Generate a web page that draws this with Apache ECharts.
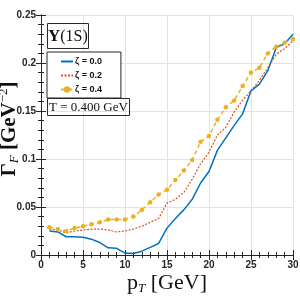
<!DOCTYPE html>
<html>
<head>
<meta charset="utf-8">
<script src="https://cdn.jsdelivr.net/npm/echarts@6/dist/echarts.min.js"></script>
<style>html,body{margin:0;padding:0;background:#fff}#c{width:300px;height:300px}</style>
</head>
<body>
<div id="c"></div>
<script>
const pT = [1,2,3,4,5,6,7,8,9,10,11,12,13,14,15,16,17,18,19,20,21,22,23,24,25,26,27,28,29,30];
const zeta00 = [0.025,0.024,0.019,0.019,0.0185,0.0165,0.013,0.0075,0.007,0.002,0.0015,0.004,0.008,0.012,0.028,0.038,0.047,0.058,0.075,0.087,0.109,0.122,0.135,0.147,0.171,0.178,0.192,0.216,0.220,0.230];
const zeta02 = [0.027,0.026,0.023,0.025,0.026,0.027,0.027,0.026,0.024,0.025,0.027,0.030,0.034,0.038,0.054,0.058,0.065,0.079,0.095,0.107,0.125,0.133,0.149,0.161,0.171,0.182,0.195,0.209,0.215,0.223];
const zeta04 = [0.029,0.027,0.025,0.028,0.030,0.032,0.034,0.037,0.037,0.037,0.040,0.047,0.055,0.063,0.068,0.078,0.088,0.099,0.118,0.124,0.141,0.154,0.161,0.176,0.190,0.195,0.210,0.217,0.221,0.225];
const seriesNames = ['ζ = 0.0','ζ = 0.2','ζ = 0.4'];
const xTicks = [0,5,10,15,20,25,30];
const yTicks = [0,0.05,0.1,0.15,0.2,0.25];

const pair = arr => pT.map((x,i)=>[x,arr[i]]);
const axisCol = '#262626';
const labelFont = {fontFamily:'Liberation Sans, Arial, sans-serif', fontWeight:'bold', fontSize:10, color:axisCol};
const serif = 'Liberation Serif, DejaVu Serif, serif';

const chart = echarts.init(document.getElementById('c'), null, {renderer:'canvas'});
chart.setOption({
  animation:false,
  backgroundColor:'#fff',
  grid:{left:41, right:7, top:15, bottom:45, containLabel:false, outerBoundsMode:'none'},
  title:[
    {text:'{b|Υ}{n|(1S)}', left:47, top:23, padding:[5,1,4,1], borderColor:'#262626', borderWidth:1,
     textStyle:{fontWeight:'normal', rich:{b:{fontFamily:serif, fontWeight:'bold', fontSize:17, color:'#111'}, n:{fontFamily:serif, fontWeight:'normal', fontSize:16, color:'#111'}}}},
    {text:'T = 0.400 GeV', left:47, top:98, padding:[3,2,2,2], borderColor:'#262626', borderWidth:1,
     textStyle:{fontFamily:serif, fontWeight:'normal', fontSize:13, color:'#111'}}
  ],
  legend:{
    orient:'vertical', left:47, top:52, padding:[5,19,4,13], itemGap:5, itemWidth:12, itemHeight:8,
    borderColor:'#262626', borderWidth:1, backgroundColor:'#fff',
    textStyle:{fontFamily:'Liberation Sans, Arial, sans-serif', fontWeight:'bold', fontSize:9, color:'#111', padding:[0,0,0,-3]},
    data:[
      {name:seriesNames[0], itemStyle:{opacity:0}},
      {name:seriesNames[1], itemStyle:{opacity:0}},
      {name:seriesNames[2]}
    ]
  },
  xAxis:[{
    type:'value', min:0, max:30, interval:5,
    name:'{p|p}{s|T}{g| [GeV]}', nameLocation:'middle', nameGap:17, nameMoveOverlap:false,
    nameTextStyle:{rich:{p:{fontFamily:serif, fontSize:22, color:'#111'}, s:{fontFamily:serif, fontStyle:'italic', fontSize:13, color:'#111', verticalAlign:'bottom', padding:[10,0,0,0]}, g:{fontFamily:serif, fontSize:22, color:'#111'}}},
    axisLine:{show:true, lineStyle:{color:axisCol, width:1}},
    axisTick:{show:true, inside:true, length:5, lineStyle:{color:axisCol}},
    minorTick:{show:true, splitNumber:5, length:3, lineStyle:{color:axisCol}},
    splitLine:{show:true, lineStyle:{color:'#e3e3e3', width:1}},
    axisLabel:Object.assign({margin:5, formatter:v=>String(v)}, labelFont)
  },{
    type:'value', min:0, max:30, interval:5, position:'top',
    axisLine:{show:true, lineStyle:{color:axisCol, width:1}},
    axisTick:{show:true, inside:true, length:5, lineStyle:{color:axisCol}},
    minorTick:{show:true, splitNumber:5, length:3, lineStyle:{color:axisCol}},
    splitLine:{show:false}, axisLabel:{show:false}
  }],
  yAxis:[{
    type:'value', min:0, max:0.25, interval:0.05,
    name:'{G|Γ}{s|F}{g| [GeV}{e|−2}{g|]}', nameLocation:'middle', nameGap:19, nameMoveOverlap:false,
    nameTextStyle:{rich:{G:{fontFamily:serif, fontWeight:'bold', fontSize:21, color:'#111', padding:[0,0,0,12]}, g:{fontFamily:serif, fontWeight:'bold', fontSize:21, color:'#111'}, s:{fontFamily:serif, fontStyle:'italic', fontSize:13, color:'#111', padding:[10,0,0,0]}, e:{fontFamily:serif, fontSize:13, color:'#111', padding:[0,0,12,0]}}},
    axisLine:{show:true, lineStyle:{color:axisCol, width:1}},
    axisTick:{show:true, inside:true, length:5, lineStyle:{color:axisCol}},
    minorTick:{show:true, splitNumber:5, length:3, lineStyle:{color:axisCol}},
    splitLine:{show:true, lineStyle:{color:'#e3e3e3', width:1}},
    axisLabel:Object.assign({margin:5, formatter:v=>(v===0?'0':String(+v.toFixed(2)))}, labelFont)
  },{
    type:'value', min:0, max:0.25, interval:0.05, position:'right',
    axisLine:{show:true, lineStyle:{color:axisCol, width:1}},
    axisTick:{show:true, inside:true, length:5, lineStyle:{color:axisCol}},
    minorTick:{show:true, splitNumber:5, length:3, lineStyle:{color:axisCol}},
    splitLine:{show:false}, axisLabel:{show:false}
  }],
  series:[
    {name:seriesNames[0], type:'line', data:pair(zeta00), symbol:'none', lineStyle:{color:'#0072BD', width:1.5}, itemStyle:{color:'#0072BD'}},
    {name:seriesNames[1], type:'line', data:pair(zeta02), symbol:'none', lineStyle:{color:'#D95319', width:1.2, type:[2,1.5]}, itemStyle:{color:'#D95319'}},
    {name:seriesNames[2], type:'line', data:pair(zeta04), symbol:'circle', symbolSize:4.5, lineStyle:{color:'#EDB120', width:1.5, type:[4,3]}, itemStyle:{color:'#EDB120'}}
  ]
});
</script>
</body>
</html>
